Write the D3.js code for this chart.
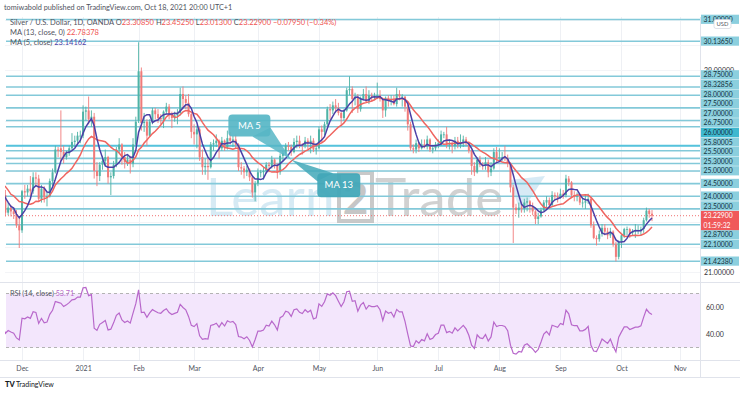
<!DOCTYPE html>
<html><head><meta charset="utf-8">
<script src="https://cdn.jsdelivr.net/npm/d3@7"></script>
<style>
body{margin:0;background:#fff}
svg{display:block}
text{font-family:Lato,"Open Sans",sans-serif}
</style></head>
<body><svg id="c" width="740" height="393"></svg>
<script>
// ---------------- DATA ----------------
const startDate = "2020-10-19";
const endAxisDate = "2021-11-05";
const holidays = ["2020-12-25", "2021-01-01"];
const warmup = 24; // bars before the first visible bar (Nov 20, 2020)

const opens = [
24.35,24.62,25.05,25.20,24.65, 24.65,24.40,24.45,23.30,23.35, 23.70,24.25,24.40,23.95,25.40, 25.55,24.10,24.30,24.15,24.35, 24.70,24.80,24.40,24.20,
23.65, 24.05,23.35,23.55,23.40,23.30, 22.85,22.65,24.20,24.15,24.30, 24.20,24.75,24.70,23.90,24.30, 23.95,24.00,24.60,24.95,25.85,
25.90,25.75,25.55,25.70, 25.90,26.15,26.20,26.40, 26.40,27.35,27.40,27.05,27.15, 25.00,24.80,25.25,25.40,25.55, 24.75,24.80,25.25,25.85,26.05,
25.55,25.35,25.45,25.30,26.05, 27.00,28.95,26.90,26.95,26.40, 26.95,27.40,27.25,27.10,27.05, 27.35,27.55,27.25,27.10,27.20, 27.30,28.05,27.85,27.70,27.25,
26.55,26.45,26.65,25.55,25.15, 25.20,25.15,26.05,26.10,26.20, 25.90,26.20,25.95,26.30,26.20, 26.25,26.05,25.15,25.10,24.95, 25.05,24.75,24.15,24.50,24.95,
24.95,25.00,25.25,25.20,25.45, 25.25,24.95,25.60,25.70,26.00, 25.95,25.75,26.15,26.20,26.05, 26.00,26.20,26.10,26.20,25.85,
25.90,26.65,26.55,26.85,27.45, 27.40,27.60,27.50,27.30,27.10, 27.40,28.20,28.25,27.85,27.90, 27.45,27.85,28.05,27.75,28.00,
27.95,27.95,28.00,27.85,27.40, 27.90,27.80,27.85,27.65,28.05, 27.95,27.95,27.55,26.85,25.90, 25.85,26.10,25.90,26.05,25.95, 26.25,25.85,25.90,26.05,26.10,
26.45,26.45,26.05,26.10,26.00, 26.20,26.05,26.15,26.25,26.10, 25.80,25.20,24.95,25.45,25.25, 25.20,25.35,24.95,25.10,25.75,
25.50,25.55,25.55,25.50,25.30, 24.35,23.55,23.45,23.55,23.50, 23.75,23.80,23.60,23.40,23.10, 23.20,23.45,23.75,23.85,23.65, 24.05,24.00,23.95,24.10,24.05,
24.70,24.55,24.05,24.00,24.00, 23.75,23.75,23.80,23.90,22.85, 22.35,22.30,22.50,22.75,22.60, 22.45,22.60,22.10,21.60,22.20,
22.45,22.70,22.70,22.55,22.60, 22.65,22.65,22.70,23.05,23.43, 23.3085];
const highs = [
24.75,25.15,25.40,25.25,24.95, 24.80,24.55,24.50,23.55,24.00, 24.35,24.55,24.50,25.45,25.95, 25.80,24.40,24.45,24.50,24.80, 25.15,24.90,24.75,24.25,
24.20, 24.25,23.75,23.65,23.50,23.45, 23.15,24.25,24.45,24.45,24.80, 24.95,24.95,24.85,24.45,24.40, 24.15,24.70,25.10,26.00,25.95,
27.40,26.00,25.80,26.00, 26.50,26.40,26.55,26.60, 27.60,27.55,27.95,27.40,27.30, 25.35,25.35,25.60,25.85,25.60, 24.95,25.40,25.95,26.30,26.10,
25.75,25.65,25.60,26.30,27.15, 30.10,29.10,27.30,27.05,27.05, 27.50,27.50,27.45,27.25,27.40, 27.70,27.65,27.35,27.35,27.45, 28.30,28.35,28.00,28.05,27.30,
26.85,26.80,26.75,25.85,25.50, 25.50,26.15,26.25,26.45,26.25, 26.35,26.25,26.60,26.55,26.40, 26.45,26.10,25.35,25.20,25.20, 25.10,24.80,24.60,25.10,25.05,
25.15,25.35,25.35,25.60,25.50, 25.30,25.70,25.80,26.10,26.15, 26.05,26.30,26.40,26.40,26.10, 26.35,26.30,26.40,26.30,26.10,
26.75,26.80,26.95,27.55,27.65, 27.75,27.85,27.70,27.35,27.45, 28.30,28.75,28.35,28.10,28.05, 27.95,28.25,28.35,28.20,28.10,
28.10,28.50,28.20,27.90,27.95, 28.00,28.00,28.00,28.30,28.20, 28.05,27.95,27.65,26.95,26.05, 26.25,26.15,26.25,26.25,26.40, 26.30,26.00,26.15,26.25,26.60,
26.55,26.75,26.25,26.15,26.35, 26.35,26.45,26.40,26.35,26.15, 25.85,25.35,25.55,25.60,25.35, 25.55,25.45,25.35,25.90,25.95,
25.90,25.75,26.00,25.65,25.35, 24.45,23.70,23.75,23.75,23.90, 23.95,23.85,23.75,23.45,23.35, 23.55,23.85,24.00,23.95,24.20, 24.15,24.15,24.30,24.25,24.85,
24.80,24.60,24.20,24.15,24.10, 23.90,24.05,24.10,23.95,23.00, 22.45,22.65,22.90,22.90,22.75, 22.75,22.65,22.20,22.25,22.50,
22.75,22.80,22.75,22.70,22.90, 22.85,22.80,23.15,23.55,23.50, 23.4525];
const lows = [
24.20,24.45,24.90,24.35,24.45, 24.10,24.00,23.05,22.85,23.20, 23.55,24.00,23.40,23.90,25.20, 23.65,23.60,24.00,23.85,24.20, 24.35,24.30,24.10,23.60,
23.50, 23.20,23.25,23.20,23.10,22.75, 21.95,22.55,23.90,24.00,24.00, 24.10,24.45,23.80,23.75,23.75, 23.60,23.95,24.40,24.90,25.55,
25.40,25.30,25.45,25.60, 25.80,25.95,26.10,26.10, 26.30,27.00,26.85,26.75,24.70, 24.40,24.60,25.05,25.20,24.50, 24.05,24.70,25.15,25.70,25.25,
25.10,25.20,24.90,25.15,26.00, 26.90,26.60,26.55,26.00,26.35, 26.85,27.05,26.90,26.85,26.70, 27.25,27.05,26.70,26.95,26.85, 27.20,27.50,27.45,27.15,26.30,
26.05,25.90,25.40,24.85,24.85, 24.65,25.10,25.80,25.95,25.50, 25.80,25.80,25.85,26.05,25.95, 25.90,25.00,24.85,24.70,24.80, 24.60,23.95,23.80,24.40,24.75,
24.65,24.90,24.95,25.10,25.10, 24.70,24.85,25.40,25.65,25.80, 25.60,25.70,25.90,25.90,25.65, 25.90,25.85,25.70,25.75,25.65,
25.85,26.15,26.40,26.75,27.05, 27.25,27.30,27.20,26.80,27.00, 27.35,28.00,27.30,27.60,27.30, 27.35,27.80,27.70,27.65,27.75,
27.80,27.85,27.75,27.10,27.15, 27.55,27.60,27.60,27.55,27.80, 27.55,27.35,26.60,25.80,25.70, 25.70,25.75,25.85,25.90,25.85, 25.75,25.70,25.80,25.90,26.00,
26.30,25.90,25.85,25.70,25.85, 25.90,25.90,25.95,26.00,25.70, 24.85,24.80,24.90,25.15,25.05, 25.05,24.75,24.80,25.05,25.35,
25.40,25.40,25.40,25.15,24.15, 22.15,23.30,23.15,23.35,23.35, 23.40,23.35,23.25,22.90,22.90, 23.15,23.40,23.55,23.50,23.60, 23.85,23.75,23.90,23.90,23.95,
24.40,23.95,23.80,23.80,23.65, 23.55,23.50,23.70,22.75,22.30, 22.05,22.20,22.40,22.45,22.30, 22.35,22.00,21.42,21.50,21.95,
22.35,22.45,22.35,22.45,22.35, 22.50,22.45,22.55,23.00,23.15, 23.013];
const closes = [
24.62,25.05,25.20,24.65,24.65, 24.40,24.45,23.30,23.35,23.70, 24.25,24.40,23.95,25.40,25.55, 24.10,24.30,24.15,24.35,24.70, 24.80,24.40,24.20,23.65,
24.05, 23.35,23.55,23.40,23.30,22.85, 22.65,24.20,24.15,24.30,24.20, 24.75,24.70,23.90,24.30,23.95, 24.00,24.60,24.95,25.85,25.80,
25.75,25.55,25.70,25.90, 26.15,26.20,26.40,26.40, 27.35,27.40,27.05,27.15,25.00, 24.80,25.25,25.40,25.55,24.75, 24.80,25.25,25.85,26.05,25.55,
25.35,25.45,25.30,26.05,26.95, 28.95,26.90,26.95,26.40,26.95, 27.40,27.25,27.10,27.05,27.35, 27.55,27.25,27.10,27.20,27.30, 28.05,27.85,27.70,27.25,26.55,
26.45,26.65,25.55,25.15,25.20, 25.15,26.05,26.10,26.20,25.90, 26.20,25.95,26.30,26.20,26.25, 26.05,25.15,25.10,24.95,25.05, 24.75,24.15,24.50,24.95,24.95,
25.00,25.25,25.20,25.45,25.25, 24.95,25.60,25.70,26.00,25.95, 25.75,26.15,26.20,26.05,26.00, 26.20,26.10,26.20,25.85,25.90,
26.65,26.55,26.85,27.45,27.40, 27.60,27.50,27.30,27.10,27.40, 28.20,28.25,27.85,27.90,27.45, 27.85,28.05,27.75,28.00,27.95,
27.95,28.00,27.85,27.40,27.90, 27.80,27.85,27.65,28.05,27.95, 27.95,27.55,26.85,25.90,25.85, 26.10,25.90,26.05,25.95,26.25, 25.85,25.90,26.05,26.10,26.45,
26.45,26.05,26.10,26.00,26.20, 26.05,26.15,26.25,26.10,25.80, 25.20,24.95,25.45,25.25,25.20, 25.35,24.95,25.10,25.75,25.50,
25.55,25.55,25.50,25.30,24.35, 23.55,23.45,23.55,23.50,23.75, 23.80,23.60,23.40,23.10,23.20, 23.45,23.75,23.85,23.65,24.05, 24.00,23.95,24.10,24.05,24.70,
24.55,24.05,24.00,24.00,23.75, 23.75,23.80,23.90,22.85,22.35, 22.30,22.50,22.75,22.60,22.45, 22.60,22.10,21.60,22.20,22.45,
22.70,22.70,22.55,22.60,22.65, 22.65,22.70,23.05,23.43,23.30, 23.229];

const levels      = [31.0, 30.1365, 28.75, 28.32856, 28.0, 27.5, 27.0, 26.75, 26.0, 25.80005, 25.5, 25.3, 25.0, 24.5, 24.0, 23.5, 22.87, 22.1, 21.4238];
const levelLabels = ["31.00000","30.13650","28.75000","28.32856","28.00000","27.50000","27.00000","26.75000","26.00000","25.80005","25.50000","25.30000","25.00000","24.50000","24.00000","23.50000","22.87000","22.10000","21.42380"];
const strongLevel = 26.0;
const priceTicks = [21,22,23,24,25,26,27,28,29,30,31];
const lastPrice = 23.229, lastPriceLabel = "23.22900", countdown = "01:59:32";
const monthLabels = ["Dec","2021","Feb","Mar","Apr","May","Jun","Jul","Aug","Sep","Oct","Nov"];
const monthStarts = ["2020-12-01","2021-01-01","2021-02-01","2021-03-01","2021-04-01","2021-05-01","2021-06-01","2021-07-01","2021-08-01","2021-09-01","2021-10-01","2021-11-01"];
const rsiTicks = [60, 40];
const rsiBand = [30, 70];
const headerText = "tomiwabold published on TradingView.com, Oct 18, 2021 20:00 UTC+1";
const symbolText = "Silver / U.S. Dollar, 1D, OANDA";
const ohlcLabels = ["O","H","L","C"];
const ohlcValues = ["23.30850","23.45250","23.01300","23.22900"];
const changeText = "\u22120.07950 (\u22120.34%)";
const ma13Legend = ["MA (13, close, 0)", "22.78378"];
const ma5Legend = ["MA (5, close)", "23.14162"];
const rsiLegend = ["RSI (14, close)", "53.71"];
// callout boxes: text, anchor price and date of the box, and the point the tails aim at
const callouts = [{text:"MA 5", level:26.8, date:"2021-03-30"}, {text:"MA 13", level:23.92, date:"2021-05-06"}];
const calloutTip = {level:25.45, date:"2021-04-19"};

// ---------------- HELPERS ----------------
function tradingDates(){
  const out=[]; let t=Date.parse(startDate+"T00:00:00Z"); const end=Date.parse(endAxisDate+"T00:00:00Z");
  while(t<=end){ const d=new Date(t); const wd=d.getUTCDay(); const s=d.toISOString().slice(0,10);
    if(wd!==0&&wd!==6&&!holidays.includes(s)) out.push(s); t+=86400000; }
  return out;
}
function sma(arr,n){ return arr.map((v,i)=> i<n-1?null: d3.mean(arr.slice(i-n+1,i+1))); }
function rsiCalc(cl,n){
  const out=cl.map(()=>null); let g=0,l=0;
  for(let i=1;i<=n;i++){const d=cl[i]-cl[i-1]; if(d>0) g+=d; else l-=d;}
  g/=n; l/=n; out[n]=100-100/(1+g/l);
  for(let i=n+1;i<cl.length;i++){const d=cl[i]-cl[i-1]; g=(g*(n-1)+Math.max(d,0))/n; l=(l*(n-1)+Math.max(-d,0))/n; out[i]= l===0?100:100-100/(1+g/l);}
  return out;
}

const dates = tradingDates();
const N = closes.length;
const lastIdx = N-1;

// ---------------- LAYOUT ----------------
const paneL=5, paneR=700, mainT=17, mainB=282, rsiT=283, rsiB=360, axB=377;
const x = d3.scaleLinear().domain([warmup, lastIdx]).range([2.6, 652]);
const y = d3.scaleLinear().domain([21, 29]).range([272, 70]);
const ry = d3.scaleLinear().domain([30, 70]).range([347.5, 293.5]);

const svg = d3.select("#c");
const defs = svg.append("defs");
defs.append("clipPath").attr("id","mainClip").append("rect").attr("x",paneL).attr("y",mainT).attr("width",paneR-paneL).attr("height",mainB-mainT);
defs.append("clipPath").attr("id","rsiClip").append("rect").attr("x",paneL).attr("y",rsiT).attr("width",paneR-paneL).attr("height",rsiB-rsiT);

svg.append("rect").attr("width",740).attr("height",393).attr("fill","#fff");

// header
svg.append("text").attr("x",4).attr("y",10).attr("font-size",7.3).attr("fill","#50535e").text(headerText);

// month index positions
const monthIdx = monthStarts.map(m => dates.findIndex(d => d >= m));

// vertical grid
svg.append("g").selectAll("line").data(monthIdx).join("line")
  .attr("x1",d=>Math.round(x(d))+0.5).attr("x2",d=>Math.round(x(d))+0.5)
  .attr("y1",mainT).attr("y2",rsiB).attr("stroke","#eef0f4").attr("stroke-width",1);
// horizontal faint grid
svg.append("g").selectAll("line").data(priceTicks).join("line")
  .attr("x1",paneL).attr("x2",paneR).attr("y1",d=>Math.round(y(d))+0.5).attr("y2",d=>Math.round(y(d))+0.5)
  .attr("stroke","#f3f4f7");

// ---------------- MAIN PANE ----------------
const main = svg.append("g").attr("clip-path","url(#mainClip)");

// watermark
const wm = main.append("g").attr("opacity",0.8);
wm.append("text").attr("x",206).attr("y",216).attr("font-size",53).attr("fill","#cde5f2").attr("font-family","Lato").text("Learn");
wm.append("rect").attr("x",339).attr("y",173).attr("width",33).attr("height",48).attr("fill","none").attr("stroke","#bcbcbc").attr("stroke-width",4);
wm.append("text").attr("x",355.5).attr("y",214).attr("text-anchor","middle").attr("font-size",44).attr("fill","#b8b8b8").attr("font-weight",700).text("2");
wm.append("text").attr("x",375).attr("y",216).attr("font-size",53).attr("fill","#c6c6c6").attr("font-family","Lato").text("Trade");
wm.append("path").attr("d","M509,180 L545,176 L521,213 Z").attr("fill","#cde5f2");

// horizontal levels
main.append("g").selectAll("line").data(levels).join("line")
  .attr("x1",paneL+1).attr("x2",paneR).attr("y1",d=>y(d)).attr("y2",d=>y(d))
  .attr("stroke",d=>d===strongLevel?"#55c3dc":"#83c9d9").attr("stroke-width",d=>d===strongLevel?2.2:1.6);

// current price dotted line
main.append("line").attr("x1",paneL).attr("x2",paneR).attr("y1",y(lastPrice)).attr("y2",y(lastPrice))
  .attr("stroke","#f07070").attr("stroke-dasharray","1,2").attr("stroke-width",1);

// candles
const idx = d3.range(N);
const upC="#4fb3a6", dnC="#f07b7a";
main.append("g").selectAll("line").data(idx).join("line")
  .attr("x1",i=>x(i)).attr("x2",i=>x(i)).attr("y1",i=>y(highs[i])).attr("y2",i=>y(lows[i]))
  .attr("stroke",i=>closes[i]>=opens[i]?upC:dnC).attr("stroke-width",0.9);
main.append("g").selectAll("rect").data(idx).join("rect")
  .attr("x",i=>x(i)-1).attr("width",2)
  .attr("y",i=>y(Math.max(opens[i],closes[i])))
  .attr("height",i=>Math.max(0.8, Math.abs(y(opens[i])-y(closes[i]))))
  .attr("fill",i=>closes[i]>=opens[i]?upC:dnC);

// moving averages
const ma13 = sma(closes,13), ma5 = sma(closes,5);
const lineGen = arr => d3.line().defined(i=>arr[i]!=null).x(i=>x(i)).y(i=>y(arr[i]))(idx);
main.append("path").attr("d",lineGen(ma13)).attr("fill","none").attr("stroke","#ef6560").attr("stroke-width",1.5);
main.append("path").attr("d",lineGen(ma5)).attr("fill","none").attr("stroke","#4b3fa6").attr("stroke-width",1.5);

// callouts (boxes point to the MA lines)
const c5 = callouts[0], c13 = callouts[1];
const tipX = x(dates.indexOf(calloutTip.date)), tipY = y(calloutTip.level);
const b5 = {x: x(dates.indexOf(c5.date)) - 24, y: y(c5.level) - 11, w: 42, h: 22};
const b13 = {x: x(dates.indexOf(c13.date)) - 10, y: y(c13.level) - 25, w: 43, h: 24};
const cg = main.append("g");
cg.append("path").attr("d",`M${b5.x+b5.w-18},${b5.y+b5.h} L${b5.x+b5.w},${b5.y+b5.h-9} L${tipX},${tipY} Z`).attr("fill","#57b6c5").attr("opacity",0.85);
cg.append("rect").attr("x",b5.x).attr("y",b5.y).attr("width",b5.w).attr("height",b5.h).attr("rx",4).attr("fill","#57b6c5").attr("opacity",0.92);
cg.append("text").attr("x",b5.x+b5.w/2).attr("y",b5.y+b5.h/2+3.2).attr("text-anchor","middle").attr("font-size",9.5).attr("fill","#fff").text(c5.text);
cg.append("path").attr("d",`M${b13.x},${b13.y+8} L${b13.x+16},${b13.y} L${tipX},${tipY} Z`).attr("fill","#42a8b8").attr("opacity",0.85);
cg.append("rect").attr("x",b13.x).attr("y",b13.y).attr("width",b13.w).attr("height",b13.h).attr("rx",4).attr("fill","#42a8b8").attr("opacity",0.95);
cg.append("text").attr("x",b13.x+b13.w/2).attr("y",b13.y+b13.h/2+3.2).attr("text-anchor","middle").attr("font-size",9.5).attr("fill","#fff").text(c13.text);

// legend
const lg = svg.append("g").attr("font-size",7.5).attr("fill","#50535e");
const l1 = lg.append("text").attr("x",10).attr("y",25);
l1.append("tspan").text(symbolText + "  ");
ohlcLabels.forEach((k,i)=>{ l1.append("tspan").text(k); l1.append("tspan").attr("fill","#ef5350").text(ohlcValues[i]+" "); });
l1.append("tspan").attr("fill","#ef5350").text(changeText);
const l2 = lg.append("text").attr("x",10).attr("y",35);
l2.append("tspan").text(ma13Legend[0]+" "); l2.append("tspan").attr("fill","#ef5350").text(ma13Legend[1]);
const l3 = lg.append("text").attr("x",10).attr("y",45);
l3.append("tspan").text(ma5Legend[0]+" "); l3.append("tspan").attr("fill","#4b3fa6").text(ma5Legend[1]);

// ---------------- RSI PANE ----------------
const rsiG = svg.append("g").attr("clip-path","url(#rsiClip)");
rsiG.append("rect").attr("x",paneL+1).attr("width",paneR-paneL-1).attr("y",ry(rsiBand[1])).attr("height",ry(rsiBand[0])-ry(rsiBand[1])).attr("fill","#f3e6fc");
rsiG.selectAll("line.b").data(rsiBand).join("line").attr("class","b")
  .attr("x1",paneL+1).attr("x2",paneR).attr("y1",d=>ry(d)).attr("y2",d=>ry(d))
  .attr("stroke","#b3b3b3").attr("stroke-dasharray","3,3");
const rsiV = rsiCalc(closes,14);
rsiG.append("path").attr("d",d3.line().defined(i=>rsiV[i]!=null).x(i=>x(i)).y(i=>ry(rsiV[i]))(idx))
  .attr("fill","none").attr("stroke","#b868cb").attr("stroke-width",1.2);
const rl = svg.append("text").attr("x",10).attr("y",295.5).attr("font-size",7.2).attr("fill","#50535e");
rl.append("tspan").text(rsiLegend[0]+" "); rl.append("tspan").attr("fill","#b868cb").text(rsiLegend[1]);

// ---------------- FRAMES ----------------
const fr = svg.append("g").attr("stroke","#e0e3eb").attr("stroke-width",1);
fr.append("line").attr("x1",0).attr("x2",740).attr("y1",282.5).attr("y2",282.5);
fr.append("line").attr("x1",0).attr("x2",740).attr("y1",rsiB+0.5).attr("y2",rsiB+0.5);
fr.append("line").attr("x1",0).attr("x2",740).attr("y1",axB+0.5).attr("y2",axB+0.5);
fr.append("line").attr("x1",700.5).attr("x2",700.5).attr("y1",mainT).attr("y2",axB);

// ---------------- PRICE AXIS ----------------
// price labels with collision avoidance around the current price label
const LH = 9.6;
const items = levels.map((v,i)=>({v, label:levelLabels[i], ideal:y(v)}));
const anchorY = y(lastPrice);
const above = items.filter(d=>d.ideal<anchorY).sort((a,b)=>b.ideal-a.ideal);
const below = items.filter(d=>d.ideal>=anchorY).sort((a,b)=>a.ideal-b.ideal);
let lim = anchorY - LH/2;
above.forEach(d=>{ d.py = Math.min(d.ideal, lim - LH/2); lim = d.py - LH/2; });
lim = anchorY + LH*1.5;
below.forEach(d=>{ d.py = Math.max(d.ideal, lim + LH/2); lim = d.py + LH/2; });
const boxes = items.map(d=>[d.py-LH/2, d.py+LH/2]).concat([[anchorY-LH/2, anchorY+LH*1.5]]);
// tick labels that are not covered by a label box
const visibleTicks = priceTicks.filter(t => !boxes.some(b => y(t) > b[0] && y(t) < b[1]));

const pa = svg.append("g").attr("transform","translate(701,0)")
  .call(d3.axisRight(y).tickValues(visibleTicks).tickFormat(d3.format(".5f")).tickSize(0).tickPadding(3));
pa.select(".domain").remove();
pa.selectAll("text").attr("font-size",7).attr("fill","#333").attr("font-family","Lato");

const pl = svg.append("g");
pl.selectAll("rect").data(items).join("rect")
  .attr("x",701).attr("width",38).attr("y",d=>d.py-LH/2).attr("height",LH-0.4)
  .attr("fill",d=>d.v===strongLevel?"#3fb8cf":"#8bcfde");
pl.selectAll("text").data(items).join("text")
  .attr("x",703.5).attr("y",d=>d.py+2.4).attr("font-size",6.8).attr("fill","#15323d").text(d=>d.label);
pl.append("rect").attr("x",701).attr("width",38).attr("y",anchorY-LH/2).attr("height",LH*2).attr("fill","#f0595a");
pl.append("text").attr("x",703.5).attr("y",anchorY+2.4).attr("font-size",6.8).attr("fill","#fff").text(lastPriceLabel);
pl.append("text").attr("x",703.5).attr("y",anchorY+LH+2.4).attr("font-size",6.8).attr("fill","#fff").text(countdown);
// USD badge
pl.append("rect").attr("x",714).attr("y",19.5).attr("width",17).attr("height",9).attr("rx",2).attr("fill","#fff").attr("stroke","#d1d4dc").attr("stroke-width",0.7);
pl.append("text").attr("x",722.5).attr("y",26.3).attr("text-anchor","middle").attr("font-size",5.8).attr("fill","#50535e").text("USD");

// RSI axis
const ra = svg.append("g").attr("transform","translate(701,0)")
  .call(d3.axisRight(ry).tickValues(rsiTicks).tickFormat(d3.format(".2f")).tickSize(0).tickPadding(5));
ra.select(".domain").remove();
ra.selectAll("text").attr("font-size",7).attr("fill","#333").attr("font-family","Lato");

// ---------------- TIME AXIS ----------------
const ta = svg.append("g").attr("transform",`translate(0,${rsiB})`)
  .call(d3.axisBottom(x).tickValues(monthIdx).tickFormat((d,i)=>monthLabels[i]).tickSize(0).tickPadding(6));
ta.select(".domain").remove();
ta.selectAll("text").attr("font-size",7).attr("fill","#50535e").attr("font-family","Lato");

// footer logo
const ft = svg.append("g");
ft.append("text").attr("x",5).attr("y",387).attr("font-size",7.5).attr("font-weight",900).attr("fill","#131722").text("TV");
ft.append("text").attr("x",16).attr("y",387).attr("font-size",7).attr("fill","#131722").text("TradingView");
</script></body></html>
